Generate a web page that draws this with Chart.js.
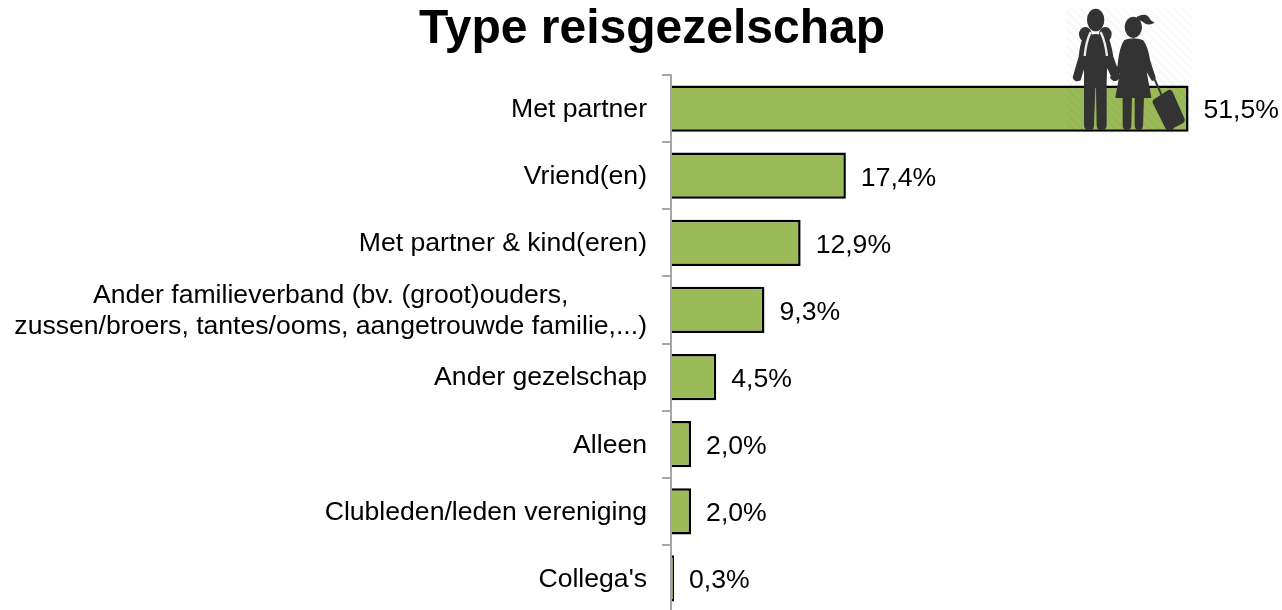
<!DOCTYPE html>
<html><head><meta charset="utf-8">
<style>
html,body{margin:0;padding:0;background:#fff;overflow:hidden}
#wrap{position:relative;width:1282px;height:610px;overflow:hidden}
canvas{position:absolute;left:0;top:0}
#icon{position:absolute;left:1040px;top:0}
</style>
<script src="https://cdn.jsdelivr.net/npm/chart.js@4"></script>
</head><body>
<div id="wrap">
<canvas id="c" width="1282" height="612"></canvas>
<svg id="icon" width="242" height="150" viewBox="0 0 726 450" xmlns="http://www.w3.org/2000/svg">
<defs><pattern id="h" width="18" height="18" patternUnits="userSpaceOnUse" patternTransform="rotate(45)"><rect width="18" height="9" fill="#000" opacity="0.025"/></pattern></defs>
<rect x="80" y="25" width="376" height="376" fill="url(#h)"/>
<g fill="#333" stroke="#333" stroke-width="4" stroke-linejoin="round">
<ellipse cx="167" cy="60" rx="24" ry="32"/>
<ellipse cx="136" cy="103" rx="17" ry="20"/><ellipse cx="196" cy="103" rx="17" ry="20"/>
<path d="M132 112 Q167 96 202 112 Q212 130 218 170 L238 226 Q236 244 220 240 L200 195 L198 240 L198 378 Q196 390 183 388 Q172 388 172 376 L170 262 L164 262 L160 376 Q160 390 146 388 Q134 388 134 376 L134 195 L120 240 Q104 246 100 232 L118 170 Q122 130 132 112Z"/>
<ellipse cx="280" cy="82" rx="24" ry="30"/>
<path d="M292 52 Q318 38 328 58 Q334 66 340 68 Q322 76 312 66 Q304 58 292 60Z"/>
<path d="M254 122 Q280 112 308 122 Q322 140 328 180 L345 232 Q344 242 336 240 L316 205 L332 292 L228 292 L244 205 L226 240 Q216 240 212 232 L234 200 Q240 140 254 122Z"/>
<path d="M250 290 L274 290 L272 378 Q270 390 260 388 Q250 388 250 376Z"/>
<path d="M286 290 L310 290 L307 378 Q304 390 296 388 Q286 388 286 376Z"/>
<path d="M342 300 L386 272 Q392 270 396 276 L432 358 Q434 364 428 368 L388 388 Q382 390 378 384 L340 308 Q338 304 342 300Z"/>
<circle cx="390" cy="378" r="11"/>
</g>
<path d="M343 236 L364 284" stroke="#333" stroke-width="6" fill="none"/>
<path d="M152 96 Q138 125 134 168 M182 96 Q196 125 201 168" stroke="#fff" stroke-width="7" fill="none" opacity="0.9"/>
</svg>
</div>
<script>
const chartTitle = 'Type reisgezelschap';
const categories = [
  ['Met partner'],
  ['Vriend(en)'],
  ['Met partner & kind(eren)'],
  ['Ander familieverband (bv. (groot)ouders,', 'zussen/broers, tantes/ooms, aangetrouwde familie,...)'],
  ['Ander gezelschap'],
  ['Alleen'],
  ['Clubleden/leden vereniging'],
  ["Collega's"]
];
const percentages = [51.5, 17.4, 12.9, 9.3, 4.5, 2.0, 2.0, 0.3];

const FONT = '"Liberation Sans", Arial, sans-serif';
const textPlugin = {
  id: 'textPlugin',
  afterDatasetsDraw(chart) {
    const ctx = chart.ctx, y = chart.scales.y;
    const meta = chart.getDatasetMeta(0);
    ctx.save();
    ctx.font = '26.6px ' + FONT;
    ctx.fillStyle = '#000';
    ctx.textBaseline = 'middle';
    categories.forEach((lines, i) => {
      const cy = y.getPixelForValue(i);
      const widest = Math.max(...lines.map(l => ctx.measureText(l).width));
      const mid = 647 - widest / 2;
      ctx.textAlign = 'center';
      lines.forEach((l, k) => {
        ctx.fillText(l, mid, cy + 1 + (k - (lines.length - 1) / 2) * 31.5);
      });
      ctx.textAlign = 'left';
      ctx.fillText(percentages[i].toFixed(1).replace('.', ',') + '%', meta.data[i].x + 15, cy + 2.5);
    });
    ctx.restore();
  }
};

new Chart(document.getElementById('c'), {
  type: 'bar',
  data: {
    labels: categories,
    datasets: [{
      data: percentages,
      backgroundColor: '#9BBB59',
      borderColor: '#000',
      borderWidth: 2.5,
      borderSkipped: 'left',
      barPercentage: 0.69,
      categoryPercentage: 1
    }]
  },
  plugins: [textPlugin],
  options: {
    indexAxis: 'y',
    responsive: false,
    animation: false,
    layout: { padding: { left: 22, right: 0, top: 0, bottom: 0 } },
    plugins: {
      legend: { display: false },
      tooltip: { enabled: false },
      title: {
        display: true,
        text: chartTitle,
        color: '#000',
        font: { family: FONT, size: 48, weight: 'bold', lineHeight: 1 },
        padding: { top: 6, bottom: 21 }
      }
    },
    scales: {
      x: { display: false, min: 0, max: 60.8 },
      y: {
        afterFit(s) { s.width = 649; },
        ticks: { display: false },
        grid: { offset: true, drawOnChartArea: false, drawTicks: true, tickLength: 9, color: '#a6a6a6', lineWidth: 2 },
        border: { display: true, color: '#a6a6a6', width: 2, z: 1 }
      }
    }
  }
});
</script>
</body></html>
